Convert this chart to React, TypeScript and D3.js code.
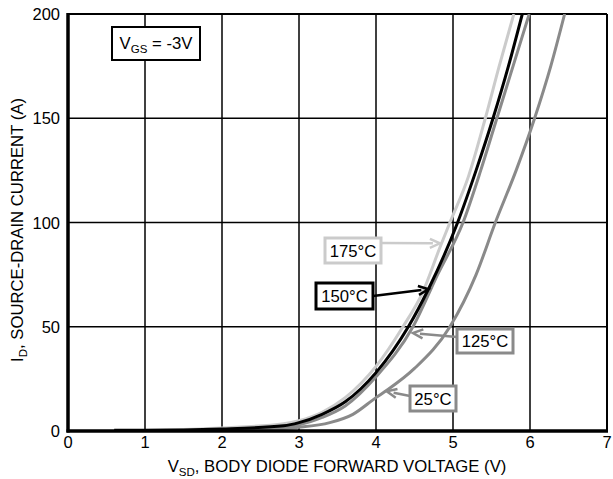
import React from 'react';
import * as d3 from 'd3';

// Body diode forward characteristic, VGS = -3V
const xTicks = [0, 1, 2, 3, 4, 5, 6, 7];
const yTicks = [0, 50, 100, 150, 200];

const v175 = [0.6, 1, 2, 2.8, 3, 3.3, 3.6, 4, 4.35, 4.6, 4.83, 4.96, 5.2, 5.42, 5.6, 5.79];
const i175 = [0, 0.3, 1.5, 3.5, 5, 9, 16, 31, 50, 66, 88, 100, 122, 150, 175, 200];

const v150 = [0.6, 1, 2, 2.8, 3, 3.3, 3.6, 4, 4.42, 4.68, 5.06, 5.3, 5.52, 5.72, 5.9];
const i150 = [0.4, 0.4, 1, 2.5, 4, 8, 14, 28, 50, 68, 100, 125, 150, 175, 200];

const v125 = [0.8, 2, 2.8, 3, 3.3, 3.6, 4, 4.48, 4.8, 5.13, 5.36, 5.57, 5.78, 5.99];
const i125 = [0, 0.8, 2, 3, 6.5, 12, 26, 50, 75, 100, 125, 150, 175, 200];

const v25 = [0.8, 2, 2.8, 3, 3.4, 3.7, 4, 4.14, 4.5, 4.96, 5.3, 5.55, 5.82, 6.06, 6.27, 6.45];
const i25 = [0, 0.5, 1.2, 1.8, 4, 8, 16, 19.5, 30, 50, 75, 100, 125, 150, 175, 200];

const series = [
  { name: '25°C', v: v25, i: i25, color: '#8a8a8a' },
  { name: '125°C', v: v125, i: i125, color: '#8a8a8a' },
  { name: '175°C', v: v175, i: i175, color: '#cbcbcb' },
  { name: '150°C', v: v150, i: i150, color: '#000000' },
];

const W = 613;
const H = 479;
const x = d3.scaleLinear().domain([0, 7]).range([68, 607]);
const y = d3.scaleLinear().domain([0, 200]).range([431, 14]);

const font = '"Liberation Sans", Arial, sans-serif';

// callout boxes, arrow tip given in data coords
const callouts = [
  { label: '175°C', bx: 325, by: 238, bw: 56, bh: 25, color: '#cbcbcb', from: [381, 243], tip: [4.83, 90] },
  { label: '150°C', bx: 316, by: 283, bw: 57, bh: 26, color: '#000000', from: [373, 296], tip: [4.68, 68] },
  { label: '125°C', bx: 457, by: 329, bw: 56, bh: 24, color: '#8a8a8a', from: [457, 337], tip: [4.48, 47] },
  { label: '25°C', bx: 410, by: 386, bw: 46, bh: 25, color: '#8a8a8a', from: [410, 396], tip: [4.14, 19] },
];

const Arrow: React.FC<{ x1: number; y1: number; x2: number; y2: number; color: string }> = ({ x1, y1, x2, y2, color }) => {
  const a = Math.atan2(y2 - y1, x2 - x1);
  const len = 10;
  const half = 4.5;
  const bx = x2 - len * Math.cos(a);
  const by = y2 - len * Math.sin(a);
  const p1 = [bx + half * Math.sin(a), by - half * Math.cos(a)];
  const p2 = [bx - half * Math.sin(a), by + half * Math.cos(a)];
  return (
    <g>
      <line x1={x1} y1={y1} x2={bx + 3 * Math.cos(a)} y2={by + 3 * Math.sin(a)} stroke={color} strokeWidth={2.5} />
      <path d={`M${p1[0]},${p1[1]} L${x2},${y2} L${p2[0]},${p2[1]}`} fill="none" stroke={color} strokeWidth={2.5} strokeLinejoin="miter" />
    </g>
  );
};

export default function App() {
  const line = d3
    .line<[number, number]>()
    .x((d) => x(d[0]))
    .y((d) => y(d[1]))
    .curve(d3.curveMonotoneX);

  return (
    <div style={{ position: 'absolute', left: 0, top: 0 }}>
      <svg width={W} height={H} style={{ display: 'block', background: '#fff' }} fontFamily={font}>
        <defs>
          <clipPath id="plot">
            <rect x={x(0)} y={y(200)} width={x(7) - x(0)} height={y(0) - y(200)} />
          </clipPath>
        </defs>

        {/* grid */}
        {xTicks.slice(1, -1).map((t) => (
          <line key={'gx' + t} x1={x(t)} x2={x(t)} y1={y(0)} y2={y(200)} stroke="#000" strokeWidth={1.5} />
        ))}
        {yTicks.slice(1, -1).map((t) => (
          <line key={'gy' + t} x1={x(0)} x2={x(7)} y1={y(t)} y2={y(t)} stroke="#000" strokeWidth={1.5} />
        ))}

        {/* frame */}
        <line x1={x(0)} x2={x(7)} y1={y(200)} y2={y(200)} stroke="#000" strokeWidth={2} />
        <line x1={x(7)} x2={x(7)} y1={y(0)} y2={y(200)} stroke="#000" strokeWidth={2} />

        {/* curves */}
        <g clipPath="url(#plot)">
          {series.map((s) => (
            <path
              key={s.name}
              d={line(s.v.map((v, k) => [v, s.i[k]] as [number, number])) || ''}
              fill="none"
              stroke={s.color}
              strokeWidth={3}
            />
          ))}
        </g>

        <line x1={x(0)} x2={x(0)} y1={y(0) + 1.5} y2={y(200) - 1} stroke="#000" strokeWidth={3.5} />
        <line x1={x(0) - 1.5} x2={x(7) + 1} y1={y(0)} y2={y(0)} stroke="#000" strokeWidth={3.5} />

        {/* tick labels */}
        {xTicks.map((t) => (
          <text key={'tx' + t} x={x(t)} y={448} textAnchor="middle" fontSize={16.5}>
            {t}
          </text>
        ))}
        {yTicks.map((t) => (
          <text key={'ty' + t} x={60} y={y(t) + 6} textAnchor="end" fontSize={16.5}>
            {t}
          </text>
        ))}

        {/* axis titles */}
        <text x={337} y={472} textAnchor="middle" fontSize={16.7}>
          V<tspan fontSize={11.5} dy={4}>SD</tspan>
          <tspan dy={-4}>, BODY DIODE FORWARD VOLTAGE (V)</tspan>
        </text>
        <text transform="translate(23,230) rotate(-90)" textAnchor="middle" fontSize={16.7}>
          I<tspan fontSize={11.5} dy={4}>D</tspan>
          <tspan dy={-4}>, SOURCE-DRAIN CURRENT (A)</tspan>
        </text>

        {/* VGS box */}
        <rect x={112} y={27} width={88} height={33} fill="#fff" stroke="#000" strokeWidth={2} />
        <text x={156} y={49} textAnchor="middle" fontSize={16.7}>
          V<tspan fontSize={11.5} dy={4}>GS</tspan>
          <tspan dy={-4}> = -3V</tspan>
        </text>

        {/* callouts */}
        {callouts.map((c) => (
          <g key={c.label}>
            <Arrow x1={c.from[0]} y1={c.from[1]} x2={x(c.tip[0])} y2={y(c.tip[1])} color={c.color} />
            <rect x={c.bx} y={c.by} width={c.bw} height={c.bh} fill="#fff" stroke={c.color} strokeWidth={3} />
            <text x={c.bx + c.bw / 2} y={c.by + c.bh / 2 + 6} textAnchor="middle" fontSize={16.7}>
              {c.label}
            </text>
          </g>
        ))}
      </svg>
    </div>
  );
}
